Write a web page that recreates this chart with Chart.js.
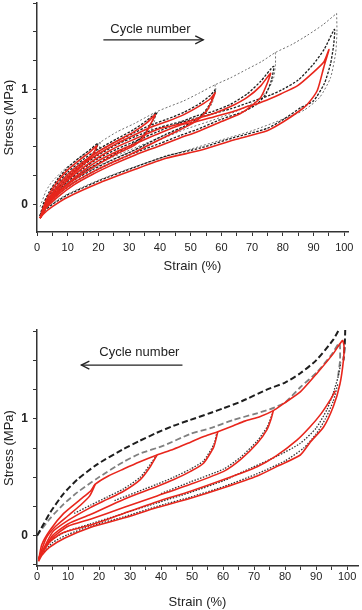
<!DOCTYPE html>
<html>
<head>
<meta charset="utf-8">
<script src="https://cdn.jsdelivr.net/npm/chart.js@4.4.1/dist/chart.umd.min.js"></script>
<style>
  body { margin: 0; background: #fff; }
  .panel { position: absolute; left: 0; width: 362px; }
</style>
</head>
<body>
<div class="panel" style="top:0;height:300px"><canvas id="topChart"></canvas></div>
<div class="panel" style="top:300px;height:310px"><canvas id="bottomChart"></canvas></div>
<script>
// ---- top panel: increasing maximum strain ----
// first-cycle envelope (grey dotted)
const topEnvStrain = [1, 3, 5, 8.7, 14, 20.6, 26, 31.5, 38.5, 43, 47.8, 53, 58, 63, 68, 73, 77.6, 83, 88, 93, 97.5];
const topEnvStress = [-0.02, 0.12, 0.2, 0.30, 0.41, 0.54, 0.63, 0.70, 0.80, 0.85, 0.90, 0.97, 1.04, 1.10, 1.17, 1.24, 1.32, 1.39, 1.47, 1.56, 1.66];
// first-cycle unloading at each level (grey dotted)
const topGrey20Strain = [20.6, 20.2, 19, 16, 12, 8, 4, 1.5];
const topGrey20Stress = [0.54, 0.47, 0.40, 0.32, 0.23, 0.13, 0.03, -0.06];
const topGrey40Strain = [38.5, 38.3, 37.2, 35, 30, 24, 17, 10, 5, 2, 1];
const topGrey40Stress = [0.80, 0.73, 0.65, 0.57, 0.49, 0.41, 0.31, 0.19, 0.08, -0.04, -0.09];
const topGrey60Strain = [58, 57.8, 57, 55, 51, 45, 38, 30, 22, 14, 7, 3, 1.5];
const topGrey60Stress = [1.04, 0.97, 0.88, 0.80, 0.72, 0.64, 0.56, 0.47, 0.38, 0.27, 0.14, 0.03, -0.07];
const topGrey80Strain = [77.6, 77.6, 77, 75, 71, 65, 57, 48, 38, 28, 18, 9, 4, 1.5];
const topGrey80Stress = [1.32, 1.22, 1.10, 0.99, 0.89, 0.81, 0.73, 0.65, 0.54, 0.43, 0.31, 0.17, 0.05, -0.06];
const topGrey100Strain = [97.5, 97.6, 97.2, 95.5, 92, 87, 80, 70, 60, 50, 40, 30, 20, 10, 5, 2];
const topGrey100Stress = [1.66, 1.50, 1.32, 1.10, 0.93, 0.82, 0.74, 0.64, 0.56, 0.48, 0.40, 0.31, 0.21, 0.09, 0.01, -0.06];
// intermediate cycles (black dashed)
const topBlack20Strain = [1, 2, 4, 7, 10, 14, 17, 19.8, 19, 17.5, 14, 10, 7, 4, 2, 1];
const topBlack20Stress = [-0.1, 0.0, 0.11, 0.23, 0.32, 0.41, 0.47, 0.53, 0.46, 0.41, 0.34, 0.24, 0.15, 0.05, -0.03, -0.1];
const topBlack40Strain = [1, 3, 6, 10, 15, 20, 26, 31.5, 35.8, 39, 37.5, 35, 31.5, 26, 20, 14, 9, 5, 2, 1];
const topBlack40Stress = [-0.1, 0.04, 0.16, 0.28, 0.39, 0.48, 0.57, 0.65, 0.73, 0.80, 0.72, 0.61, 0.53, 0.45, 0.36, 0.26, 0.16, 0.06, -0.05, -0.1];
const topBlack60Strain = [1, 3, 6, 10, 15, 20, 26, 31.5, 37, 42.3, 47.8, 53.2, 56.5, 58.2, 56, 53, 48, 42, 36, 30, 24, 18, 12, 7, 3, 1];
const topBlack60Stress = [-0.1, 0.02, 0.14, 0.26, 0.37, 0.46, 0.55, 0.62, 0.69, 0.74, 0.80, 0.88, 0.95, 1.00, 0.86, 0.76, 0.68, 0.61, 0.53, 0.45, 0.38, 0.30, 0.21, 0.11, 0.0, -0.1];
const topBlack80Strain = [1, 3, 6, 10, 15, 20, 26, 32, 40, 47, 52, 57.5, 63, 68.4, 72.8, 77, 76.3, 74.5, 71.5, 67.5, 60, 52, 46.7, 40, 32, 25, 18, 12, 7, 3, 1];
const topBlack80Stress = [-0.1, 0.01, 0.12, 0.23, 0.34, 0.43, 0.52, 0.59, 0.67, 0.72, 0.77, 0.81, 0.87, 0.96, 1.07, 1.20, 1.08, 0.96, 0.87, 0.81, 0.74, 0.65, 0.60, 0.53, 0.45, 0.37, 0.28, 0.19, 0.09, -0.01, -0.1];
const topBlack100Strain = [1, 3, 6, 10, 15, 20, 26, 33, 40, 46.7, 52, 57.5, 63, 68.4, 76, 80, 85, 90, 93.5, 96.8, 96.5, 95.5, 93.5, 90, 85.8, 80.3, 74.9, 64, 53.2, 42, 31.5, 20.6, 9.8, 5, 2.2, 1];
const topBlack100Stress = [-0.1, 0.0, 0.10, 0.20, 0.31, 0.40, 0.48, 0.56, 0.64, 0.71, 0.75, 0.79, 0.83, 0.88, 0.95, 1.0, 1.08, 1.22, 1.35, 1.52, 1.38, 1.22, 1.05, 0.90, 0.84, 0.74, 0.66, 0.58, 0.49, 0.42, 0.32, 0.21, 0.08, 0.0, -0.06, -0.1];
// last cycle at each level (red)
const topRed20Strain = [1, 2, 4, 7, 10, 14, 17, 19.5, 18.5, 17, 14, 10, 7, 4, 2, 1];
const topRed20Stress = [-0.12, -0.03, 0.09, 0.21, 0.30, 0.39, 0.45, 0.51, 0.45, 0.40, 0.32, 0.22, 0.13, 0.03, -0.05, -0.12];
const topRed40Strain = [1, 3, 6, 10, 15, 20, 26, 31.5, 35.8, 38.5, 37, 34.7, 31.5, 26, 20, 14, 9, 5, 2, 1];
const topRed40Stress = [-0.12, 0.01, 0.14, 0.26, 0.37, 0.46, 0.55, 0.63, 0.71, 0.78, 0.70, 0.585, 0.51, 0.44, 0.35, 0.25, 0.15, 0.05, -0.06, -0.12];
const topRed60Strain = [1, 3, 6, 10, 15, 20, 26, 31.5, 37, 42.3, 47.8, 53.2, 56.5, 58, 55.4, 52.1, 47.8, 42, 36, 30, 24, 18, 12, 7, 3, 1];
const topRed60Stress = [-0.12, 0.0, 0.12, 0.24, 0.35, 0.44, 0.53, 0.60, 0.67, 0.72, 0.78, 0.86, 0.92, 0.97, 0.82, 0.73, 0.665, 0.59, 0.51, 0.43, 0.36, 0.28, 0.19, 0.09, -0.02, -0.12];
const topRed80Strain = [1, 3, 6, 10, 15, 20, 26, 32, 40, 47, 52, 57.5, 63, 68.4, 72.8, 76, 74.9, 72.8, 69.5, 66.2, 60, 52, 46.7, 40, 32, 25, 18, 12, 7, 3, 1];
const topRed80Stress = [-0.12, -0.01, 0.10, 0.21, 0.32, 0.41, 0.50, 0.57, 0.66, 0.70, 0.745, 0.79, 0.85, 0.93, 1.03, 1.14, 1.05, 0.93, 0.85, 0.79, 0.72, 0.63, 0.58, 0.51, 0.43, 0.35, 0.26, 0.17, 0.07, -0.03, -0.12];
const topRed100Strain = [1, 3, 6, 10, 15, 20, 26, 33, 40, 46.7, 52, 57.5, 63, 68.4, 71.7, 76, 79.3, 84.7, 90, 93.4, 95, 93.3, 91.2, 88, 85.8, 80.3, 74.9, 64, 53.2, 42, 31.5, 20.6, 9.8, 5, 2.2, 1];
const topRed100Stress = [-0.12, -0.02, 0.08, 0.18, 0.29, 0.38, 0.46, 0.54, 0.62, 0.69, 0.72, 0.76, 0.80, 0.85, 0.875, 0.92, 0.96, 1.03, 1.15, 1.24, 1.345, 1.19, 0.99, 0.87, 0.82, 0.72, 0.64, 0.56, 0.47, 0.40, 0.30, 0.19, 0.06, -0.02, -0.08, -0.12];

// ---- bottom panel: decreasing maximum strain ----
const botBlackStrain = [0, 1.1, 4.3, 8.6, 13, 19.4, 27.8, 33, 38.6, 44, 49.4, 55.9, 60.1, 66, 74.1, 80, 84.9, 90, 95.6, 99.2, 99.2, 98.8];
const botBlackStress = [0.0, 0.05, 0.2, 0.36, 0.48, 0.61, 0.74, 0.81, 0.88, 0.94, 0.99, 1.05, 1.09, 1.15, 1.25, 1.31, 1.39, 1.50, 1.68, 1.84, 1.62, 1.50];
const botGreyStrain = [0, 1.1, 4.3, 8.6, 13, 19.4, 27.8, 33, 40.8, 49.4, 55.9, 63.3, 70, 75, 80, 84.9, 90.3, 95, 97.5, 97.7, 97];
const botGreyStress = [0.0, 0.04, 0.15, 0.27, 0.37, 0.49, 0.63, 0.70, 0.77, 0.87, 0.92, 0.99, 1.04, 1.08, 1.14, 1.27, 1.40, 1.55, 1.65, 1.50, 1.35];
const botDot1Strain = [1, 5, 10, 17.2, 27.9, 38.7, 49.5, 60.2, 66.6, 77.4, 84.9, 90, 93.5, 95.5, 97, 98];
const botDot1Stress = [-0.16, -0.03, 0.04, 0.10, 0.19, 0.28, 0.37, 0.47, 0.55, 0.68, 0.79, 0.92, 1.08, 1.22, 1.35, 1.48];
const botDot2Strain = [1, 5, 10, 17.2, 27.9, 38.7, 49.5, 60.2, 71, 80, 86, 90, 93, 95.5, 97];
const botDot2Stress = [-0.18, -0.06, 0.01, 0.08, 0.16, 0.25, 0.33, 0.42, 0.53, 0.64, 0.75, 0.87, 1.0, 1.15, 1.3];
const botDot80Strain = [40, 49.5, 60.2, 65.6, 71, 74.2, 76];
const botDot80Stress = [0.36, 0.46, 0.57, 0.67, 0.81, 0.93, 1.05];
const botDot60Strain = [25, 38.7, 44.1, 49.5, 53.7, 57, 58];
const botDot60Stress = [0.30, 0.44, 0.50, 0.57, 0.64, 0.78, 0.88];
const botDot40Strain = [12, 17.2, 22.6, 27.9, 33.3, 36.5, 38.4];
const botDot40Stress = [0.19, 0.26, 0.33, 0.40, 0.50, 0.61, 0.68];
const botRedEnvStrain = [0.5, 1.5, 4.3, 8.6, 14, 17.2, 18.8, 23, 27.9, 33, 38.7, 44, 49.5, 54, 58.3, 63.3, 67, 72, 76.2, 79.5, 84.9, 90.3, 95.6, 98.5, 99, 98.8, 97.7, 95.6, 92.4, 88.1, 84.9, 78, 71, 60.2, 49.5, 38.7, 27.9, 17.2, 9, 4, 1.5, 0.5];
const botRedEnvStress = [-0.22, -0.08, 0.05, 0.19, 0.31, 0.38, 0.44, 0.51, 0.57, 0.63, 0.69, 0.74, 0.80, 0.85, 0.89, 0.94, 0.98, 1.02, 1.07, 1.13, 1.23, 1.39, 1.56, 1.67, 1.62, 1.50, 1.30, 1.11, 0.93, 0.80, 0.69, 0.60, 0.51, 0.41, 0.32, 0.24, 0.15, 0.07, -0.02, -0.10, -0.17, -0.22];
const botRed100bStrain = [0.5, 3, 8, 17.2, 27.9, 38.7, 49.5, 60.2, 71, 77, 83.9, 88, 91.5, 94.5, 96.2];
const botRed100bStress = [-0.2, -0.08, 0.02, 0.09, 0.19, 0.29, 0.38, 0.48, 0.59, 0.68, 0.82, 0.93, 1.04, 1.16, 1.24];
const botRed80Strain = [0.5, 5, 10, 17.2, 27.9, 38.7, 49.5, 60.2, 65.6, 71, 74.2, 75.5, 76.2];
const botRed80Stress = [-0.2, -0.02, 0.08, 0.14, 0.24, 0.34, 0.44, 0.55, 0.65, 0.79, 0.91, 1.0, 1.07];
const botRed60Strain = [0.5, 5, 10, 17.2, 27.9, 38.7, 44.1, 49.5, 53.7, 57, 58.3];
const botRed60Stress = [-0.2, 0.0, 0.1, 0.18, 0.31, 0.42, 0.48, 0.55, 0.62, 0.76, 0.89];
const botRed40Strain = [0.5, 5, 10, 17.2, 22.6, 27.9, 33.3, 36.5, 38.7];
const botRed40Stress = [-0.2, 0.03, 0.13, 0.24, 0.31, 0.38, 0.48, 0.59, 0.69];
const botRed20Strain = [0.5, 3, 6, 10, 14, 17, 18.8];
const botRed20Stress = [-0.2, -0.02, 0.08, 0.17, 0.26, 0.34, 0.44];

Chart.defaults.font.family = '"Liberation Sans", Arial, sans-serif';
Chart.defaults.color = '#222';

const RED = { borderColor: '#e8261c', borderWidth: 1.6 };
const BLACK_DASH = { borderColor: '#1e1e1e', borderWidth: 1.3, borderDash: [2.5, 1.5] };
const GREY_DOT = { borderColor: '#707070', borderWidth: 1, borderDash: [2, 2] };
const BIG_BLACK = { borderColor: '#1e1e1e', borderWidth: 2, borderDash: [6, 3] };
const BIG_GREY = { borderColor: '#808080', borderWidth: 1.8, borderDash: [6, 3] };
const DOTS = { borderColor: '#333', borderWidth: 1.3, borderDash: [1.5, 1.5] };

function curve(xs, ys, style) {
  return Object.assign({
    data: xs.map((x, i) => ({ x: x, y: ys[i] })),
    showLine: true, pointRadius: 0, fill: false, tension: 0.2
  }, style);
}

// draws the "Cycle number" note with its arrow at data positions
const cycleNote = {
  id: 'cycleNote',
  afterDraw(chart, args, opts) {
    const { ctx } = chart;
    const x = chart.scales.x, y = chart.scales.y;
    ctx.save();
    ctx.font = '13px "Liberation Sans", Arial, sans-serif';
    ctx.fillStyle = '#222';
    ctx.textAlign = 'center';
    ctx.textBaseline = 'middle';
    ctx.fillText('Cycle number', x.getPixelForValue(opts.textX), y.getPixelForValue(opts.textY));
    const x0 = x.getPixelForValue(opts.from), x1 = x.getPixelForValue(opts.to);
    const ay = y.getPixelForValue(opts.arrowY);
    const dir = Math.sign(x1 - x0);
    ctx.strokeStyle = '#222';
    ctx.lineWidth = 1.3;
    ctx.beginPath(); ctx.moveTo(x0, ay); ctx.lineTo(x1, ay); ctx.stroke();
    ctx.beginPath(); ctx.moveTo(x1 - dir * 8, ay - 4); ctx.lineTo(x1, ay); ctx.lineTo(x1 - dir * 8, ay + 4); ctx.stroke();
    ctx.restore();
  }
};

function isWhole(v) { return Math.abs(v - Math.round(v)) < 1e-6; }

function makeOptions(p) {
  return {
    responsive: true,
    maintainAspectRatio: false,
    animation: false,
    layout: { padding: { top: p.padTop, right: p.padRight, left: 0, bottom: 0 } },
    plugins: { legend: { display: false }, tooltip: { enabled: false }, cycleNote: p.note },
    scales: {
      x: {
        type: 'linear', min: 0, max: p.xMax,
        border: { color: '#333', width: 1.5 },
        grid: { drawOnChartArea: false, tickLength: 4, color: '#333' },
        ticks: {
          stepSize: 5, includeBounds: false, autoSkip: false, maxRotation: 0,
          padding: p.xTickPad, font: { size: 11 },
          callback: v => (v % 10 === 0 ? String(v) : '')
        },
        title: { display: true, text: 'Strain (%)', font: { size: 13 }, padding: { top: 0, bottom: p.xTitlePad } },
        afterFit: s => { s.height = p.xHeight; s.paddingLeft = 0; s.paddingRight = 0; }
      },
      y: {
        type: 'linear', min: p.yMin, max: p.yMax,
        border: { color: '#333', width: 1.5 },
        grid: { drawOnChartArea: false, tickLength: 4, color: '#333' },
        ticks: {
          stepSize: 0.25, includeBounds: false, autoSkip: false,
          padding: 5, font: { size: 12, weight: 'bold' },
          callback: v => (isWhole(v) ? String(Math.round(v)) : '')
        },
        title: { display: true, text: 'Stress (MPa)', font: { size: 13 }, padding: { top: 2, bottom: 0 } },
        afterFit: s => { s.width = 37; s.paddingTop = 0; s.paddingBottom = 0; }
      }
    }
  };
}

new Chart(document.getElementById('topChart'), {
  type: 'scatter',
  data: {
    datasets: [
      curve(topRed20Strain, topRed20Stress, RED),
      curve(topRed40Strain, topRed40Stress, RED),
      curve(topRed60Strain, topRed60Stress, RED),
      curve(topRed80Strain, topRed80Stress, RED),
      curve(topRed100Strain, topRed100Stress, RED),
      curve(topBlack20Strain, topBlack20Stress, BLACK_DASH),
      curve(topBlack40Strain, topBlack40Stress, BLACK_DASH),
      curve(topBlack60Strain, topBlack60Stress, BLACK_DASH),
      curve(topBlack80Strain, topBlack80Stress, BLACK_DASH),
      curve(topBlack100Strain, topBlack100Stress, BLACK_DASH),
      curve(topEnvStrain, topEnvStress, GREY_DOT),
      curve(topGrey20Strain, topGrey20Stress, GREY_DOT),
      curve(topGrey40Strain, topGrey40Stress, GREY_DOT),
      curve(topGrey60Strain, topGrey60Stress, GREY_DOT),
      curve(topGrey80Strain, topGrey80Stress, GREY_DOT),
      curve(topGrey100Strain, topGrey100Stress, GREY_DOT)
    ]
  },
  options: makeOptions({
    padTop: 3, padRight: 14, xMax: 101.2, yMin: -0.24, yMax: 1.75,
    xHeight: 68, xTickPad: 5, xTitlePad: 26,
    note: { textX: 36.9, textY: 1.52, from: 21.6, to: 54.1, arrowY: 1.43 }
  }),
  plugins: [cycleNote]
});

new Chart(document.getElementById('bottomChart'), {
  type: 'scatter',
  data: {
    datasets: [
      curve(botRedEnvStrain, botRedEnvStress, RED),
      curve(botRed100bStrain, botRed100bStress, RED),
      curve(botRed80Strain, botRed80Stress, RED),
      curve(botRed60Strain, botRed60Stress, RED),
      curve(botRed40Strain, botRed40Stress, RED),
      curve(botRed20Strain, botRed20Stress, RED),
      curve(botDot1Strain, botDot1Stress, DOTS),
      curve(botDot2Strain, botDot2Stress, DOTS),
      curve(botDot80Strain, botDot80Stress, DOTS),
      curve(botDot60Strain, botDot60Stress, DOTS),
      curve(botDot40Strain, botDot40Stress, DOTS),
      curve(botBlackStrain, botBlackStress, BIG_BLACK),
      curve(botGreyStrain, botGreyStress, BIG_GREY)
    ]
  },
  options: makeOptions({
    padTop: 30, padRight: 4, xMax: 103.5, yMin: -0.26, yMax: 1.76,
    xHeight: 44, xTickPad: 0, xTitlePad: 0,
    note: { textX: 33, textY: 1.564, from: 46.9, to: 14.3, arrowY: 1.46 }
  }),
  plugins: [cycleNote]
});
</script>
</body>
</html>
